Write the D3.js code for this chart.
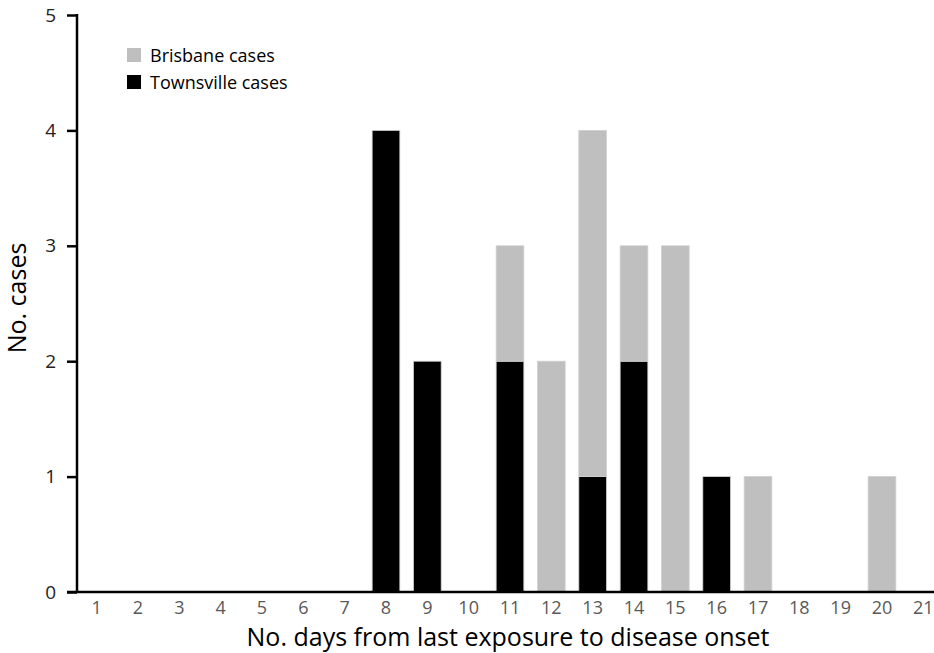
<!DOCTYPE html>
<html>
<head>
<meta charset="utf-8">
<script src="https://cdn.jsdelivr.net/npm/d3@7"></script>
<style>
body { margin: 0; background: #fff; }
text { font-family: "Open Sans", Lato, sans-serif; }
</style>
</head>
<body>
<div id="chart"></div>
<script>
// days from last exposure to onset
var days = ["1","2","3","4","5","6","7","8","9","10","11","12","13","14","15","16","17","18","19","20","21"];
var townsville = [0,0,0,0,0,0,0,4,2,0,2,0,1,2,0,1,0,0,0,0,0];
var brisbane   = [0,0,0,0,0,0,0,0,0,0,1,2,3,1,3,0,1,0,0,1,0];
var yTicks = [0,1,2,3,4,5];

var width = 934, height = 653;

var svg = d3.select("#chart")
	.append("svg")
	.attr("width", width)
	.attr("height", height);

var x = d3.scaleBand()
	.domain(days)
	.range([76, 944])
	.paddingInner(0.33)
	.paddingOuter(0.165);

var y = d3.scaleLinear()
	.domain([0, 5])
	.range([592, 15]);

// stack: townsville at the bottom, brisbane on top
var rows = days.map(function(d, i) {
	return { day: d, townsville: townsville[i], brisbane: brisbane[i] };
});
var stacked = d3.stack().keys(["townsville", "brisbane"])(rows);
var colors = { townsville: "#000000", brisbane: "#bfbfbf" };

var layer = svg.selectAll(".layer")
	.data(stacked)
	.enter().append("g")
	.attr("class", "layer")
	.style("fill", function(d) { return colors[d.key]; });

layer.selectAll("rect")
	.data(function(d) { return d.filter(function(v) { return v[1] > v[0]; }); })
	.enter().append("rect")
	.attr("x", function(d) { return x(d.data.day); })
	.attr("y", function(d) { return y(d[1]); })
	.attr("width", x.bandwidth())
	.attr("height", function(d) { return y(d[0]) - y(d[1]); })
	.style("stroke", "#d0d0d0")
	.style("stroke-width", 0.8);

// y axis
var yAxis = svg.append("g")
	.attr("transform", "translate(77,0)")
	.call(d3.axisLeft(y).tickValues(yTicks).tickFormat(d3.format("d")).tickSize(10).tickPadding(11));
yAxis.select(".domain").remove();
yAxis.append("line")
	.attr("x1", 0).attr("x2", 0)
	.attr("y1", y(5) - 1).attr("y2", y(0) + 1)
	.style("stroke", "#000").style("stroke-width", 2.5);
yAxis.selectAll(".tick line").style("stroke", "#000").style("stroke-width", 2.5);
yAxis.selectAll(".tick text")
	.style("font-size", "19px")
	.style("fill", "#222");

// x axis
var xAxis = svg.append("g")
	.attr("transform", "translate(0,592)")
	.call(d3.axisBottom(x).tickSize(0).tickPadding(9));
xAxis.select(".domain").remove();
xAxis.append("line")
	.attr("x1", 67).attr("x2", width)
	.attr("y1", 0).attr("y2", 0)
	.style("stroke", "#000").style("stroke-width", 2.5);
xAxis.selectAll(".tick text")
	.style("font-size", "18px")
	.style("fill", "#595959");

// axis titles
svg.append("text")
	.attr("x", 508)
	.attr("y", 646)
	.attr("text-anchor", "middle")
	.style("font-size", "25px")
	.style("fill", "#000")
	.text("No. days from last exposure to disease onset");

svg.append("text")
	.attr("transform", "translate(26,298) rotate(-90)")
	.attr("text-anchor", "middle")
	.style("font-size", "25px")
	.style("fill", "#000")
	.text("No. cases");

// legend
var legendItems = [
	{ label: "Brisbane cases", color: colors.brisbane },
	{ label: "Townsville cases", color: colors.townsville }
];
var legend = svg.selectAll(".legend")
	.data(legendItems)
	.enter().append("g")
	.attr("class", "legend")
	.attr("transform", function(d, i) { return "translate(127," + (48 + i * 27) + ")"; });
legend.append("rect")
	.attr("width", 14).attr("height", 14)
	.style("fill", function(d) { return d.color; });
legend.append("text")
	.attr("x", 23).attr("y", 14)
	.style("font-size", "18px")
	.style("fill", "#000")
	.text(function(d) { return d.label; });
</script>
</body>
</html>
